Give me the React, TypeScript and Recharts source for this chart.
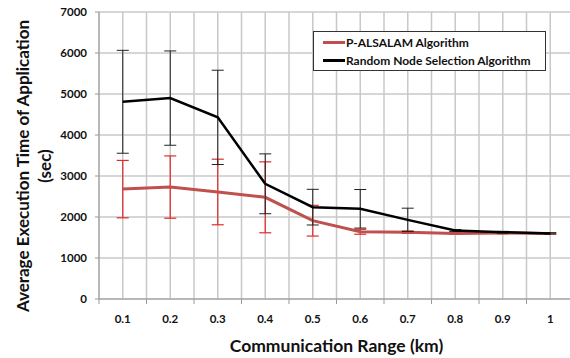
import React from 'react';
import { CartesianGrid, ErrorBar, Line, LineChart, XAxis, YAxis } from 'recharts';

const ranges = ['0.1', '0.2', '0.3', '0.4', '0.5', '0.6', '0.7', '0.8', '0.9', '1'];
const alsalam = [2680, 2730, 2610, 2480, 1910, 1640, 1630, 1600, 1610, 1600];
const alsalamErr = [700, 760, 800, 865, 375, 60, 30, 20, 20, 15];
const randomNode = [4810, 4900, 4430, 2810, 2240, 2200, 1930, 1670, 1630, 1600];
const randomNodeErr = [1255, 1150, 1150, 730, 435, 470, 285, 25, 20, 15];
const yTicks = [0, 1000, 2000, 3000, 4000, 5000, 6000, 7000];

const data = ranges.map((r, i) => ({
  range: r,
  alsalam: alsalam[i],
  alsalamErr: alsalamErr[i],
  randomNode: randomNode[i],
  randomNodeErr: randomNodeErr[i],
}));

const FONT = 'Lato, "Open Sans", sans-serif';
const CHART_W = 580;
const CHART_H = 358;
const Y_AXIS_W = 99;
const RIGHT = 6;
const HALF_BAND = (CHART_W - Y_AXIS_W - RIGHT) / ranges.length / 2;

const XTick = (props: any) => {
  const { x, y, payload } = props;
  return (
    <g>
      <line x1={x - HALF_BAND} y1={y} x2={x - HALF_BAND} y2={y + 5} stroke="#999" />
      <text x={x} y={y + 24} textAnchor="middle" fontSize={11.5} fontWeight="bold" fill="#111" fontFamily={FONT}>
        {payload.value}
      </text>
    </g>
  );
};

const YLabel = () => (
  <g fontFamily={FONT} fontWeight="bold" fontSize={17} fill="#111">
    <text x={22} y={166} transform="rotate(-90 22 166)" textAnchor="middle" dominantBaseline="central">
      Average Execution Time of Application
    </text>
    <text x={44} y={166} transform="rotate(-90 44 166)" textAnchor="middle" dominantBaseline="central">
      (sec)
    </text>
  </g>
);

const legendItems = [
  { label: 'P-ALSALAM Algorithm', color: '#c0504d' },
  { label: 'Random Node Selection Algorithm', color: '#000' },
];

const LegendBox = () => (
  <div
    style={{
      position: 'absolute',
      left: 313,
      top: 31,
      width: 222,
      border: '1px solid #333',
      background: '#fff',
      padding: '1px 0 1px 9px',
      fontFamily: FONT,
      fontWeight: 'bold',
      fontSize: 12,
      color: '#111',
    }}
  >
    {legendItems.map((it) => (
      <div key={it.label} style={{ display: 'flex', alignItems: 'center', height: 18, whiteSpace: 'nowrap' }}>
        <span style={{ display: 'inline-block', width: 22, height: 3, background: it.color, marginRight: 1 }} />
        {it.label}
      </div>
    ))}
  </div>
);

export default function App() {
  return (
    <div
      style={{
        position: 'absolute',
        left: 0,
        top: 0,
        width: 570,
        height: 358,
        overflow: 'hidden',
        background: '#fff',
      }}
    >
      <LineChart width={CHART_W} height={CHART_H} data={data} margin={{ top: 12, right: RIGHT, left: 0, bottom: 0 }}>
        <CartesianGrid
          stroke="#c8c8c8"
          strokeWidth={1.5}
          verticalCoordinatesGenerator={({ offset }: any) =>
            Array.from({ length: ranges.length * 2 + 1 }, (_, i) => offset.left + (i * offset.width) / (ranges.length * 2))
          }
        />
        <XAxis
          dataKey="range"
          height={59}
          padding={{ left: HALF_BAND, right: HALF_BAND }}
          tickSize={0}
          tickMargin={0}
          tickLine={false}
          axisLine={{ stroke: '#999' }}
          tick={<XTick />}
          interval={0}
          label={{
            value: 'Communication Range (km)',
            position: 'insideBottom',
            offset: 6,
            style: { fontFamily: FONT, fontWeight: 'bold', fontSize: 17.5, fill: '#111' },
          }}
        />
        <YAxis
          width={Y_AXIS_W}
          domain={[0, 7000]}
          ticks={yTicks}
          tickSize={4}
          tickMargin={8}
          axisLine={{ stroke: '#999' }}
          tickLine={{ stroke: '#999' }}
          tick={{ fontFamily: FONT, fontWeight: 'bold', fontSize: 11.5, fill: '#111' }}
          label={{ content: () => <YLabel /> }}
        />
        <Line
          type="linear"
          dataKey="alsalam"
          stroke="#c0504d"
          strokeWidth={3}
          dot={false}
          isAnimationActive={false}
        >
          <ErrorBar dataKey="alsalamErr" width={6} stroke="#e02a2a" strokeWidth={1.2} direction="y" isAnimationActive={false} />
        </Line>
        <Line
          type="linear"
          dataKey="randomNode"
          stroke="#000"
          strokeWidth={2.5}
          dot={false}
          isAnimationActive={false}
        >
          <ErrorBar dataKey="randomNodeErr" width={6} stroke="#222" strokeWidth={1} direction="y" isAnimationActive={false} />
        </Line>
      </LineChart>
      <LegendBox />
    </div>
  );
}
